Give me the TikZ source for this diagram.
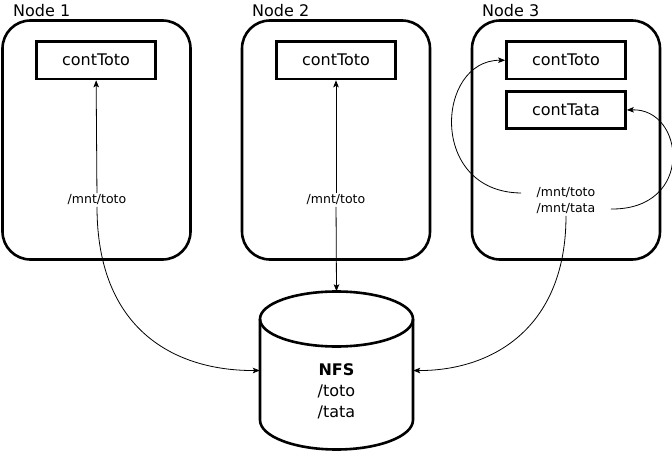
\documentclass[tikz,border=0pt]{standalone}
\usepackage{fontspec}
\setmainfont{DejaVu Sans}
\usetikzlibrary{arrows.meta}

\begin{document}
\begin{tikzpicture}[x=1pt,y=1pt,yscale=-1,xscale=1,
	hostbox/.style={draw, line width=2.6pt, rounded corners=28pt, minimum width=188pt, minimum height=239pt},
	contbox/.style={draw, line width=2.6pt, minimum width=119pt, minimum height=37.5pt, font=\fontsize{16}{19}\selectfont},
	hostlbl/.style={anchor=base west, inner sep=0pt, font=\fontsize{16}{19}\selectfont},
	mntlbl/.style={inner sep=1.5pt, font=\fontsize{12.5}{15}\selectfont},
	link/.style={line width=0.8pt, -{Stealth[length=7pt,width=5.5pt,inset=1.5pt]}}]
				\useasboundingbox (0,0) rectangle (672,452);

				%Shape: Host boxes
				\node [hostbox] (host1) at (96.5,140) {};
				\node [hostbox] (host2) at (336,140) {};
				\node [hostbox] (host3) at (566,140) {};
				% Text Node
				\node [hostlbl] (lbl1) at (13,17) {Node 1};
				% Text Node
				\node [hostlbl] (lbl2) at (252,17) {Node 2};
				% Text Node
				\node [hostlbl] (lbl3) at (482,17) {Node 3};

				%Shape: Containers
				\node [contbox] (toto1) at (96,60.25) {contToto};
				\node [contbox] (toto2) at (336,60.25) {contToto};
				\node [contbox] (toto3) at (566,60.25) {contToto};
				\node [contbox] (tata3) at (566,110) {contTata};

				%Shape: Cylinder
				\node [minimum width=153pt, minimum height=158pt, inner sep=0pt] (nfs) at (336.5,370.5) {};
				\draw [line width=2.6pt] (336.5,319) ellipse [x radius=76.5, y radius=27.5];
				\draw [line width=2.6pt] (260,319) -- (260,420) arc [start angle=180, end angle=0, x radius=76.5, y radius=29.5] -- (413,319);
				% Text Node
				\node [align=center, font=\fontsize{16}{21}\selectfont] (nfslbl) at (336.5,391) {\textbf{NFS}\\/toto\\/tata};

				% Text Node
				\node [mntlbl] (mnt1) at (97,200) {/mnt/toto};
				% Text Node
				\node [mntlbl] (mnt2) at (336,200) {/mnt/toto};
				% Text Node
				\node [mntlbl] (mntToto3) at (566,193) {/mnt/toto};
				% Text Node
				\node [mntlbl] (mntTata3) at (566,209) {/mnt/tata};

				%Straight Lines
				\draw [link] (mnt1) -- (toto1);
				\draw [link] (mnt2) -- (toto2);
				\draw [link] (mnt2) -- (nfs.north);
				%Curves
				\draw [link] (mnt1.south) .. controls (97,330) and (175,371) .. (nfs.west);
				\draw [link] (mntTata3.south -| 566,0) .. controls (566,330) and (490,371) .. (nfs.east);
				\draw [link] ([xshift=-14pt]mntToto3.west) .. controls (428,192) and (436,60) .. (toto3.west);
				\draw [link] ([xshift=14pt]mntTata3.east) .. controls (695,210) and (685,108) .. (tata3.east);

		\end{tikzpicture}
\end{document}
